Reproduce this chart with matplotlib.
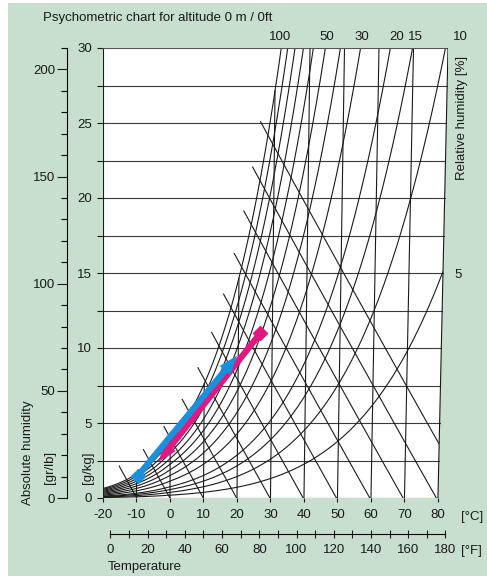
import numpy as np
import matplotlib
matplotlib.use("Agg")
import matplotlib.pyplot as plt
from matplotlib.patches import Polygon, Rectangle

plt.rcParams['font.family'] = ['Liberation Sans', 'DejaVu Sans']

BG = '#c8dfcf'
BLUE = '#1a8fdc'
MAGENTA = '#e0187f'
INK = '#1a1a1a'

P_ATM = 101.325  # kPa, altitude 0 m

# chart grid levels
rh_levels = [100, 90, 80, 70, 60, 50, 40, 30, 20, 15, 10, 5]
rh_top_labels = ['100', '50', '30', '20', '15', '10']
rh_side_label = '5'
isotherms = [-10, 0, 10, 20, 30, 40, 50, 60, 70]
enthalpy_levels = [-10, 0, 10, 20, 30, 40, 50, 60, 70, 80, 90, 100, 110, 120, 130, 140, 150]
t_ticks = [-20, -10, 0, 10, 20, 30, 40, 50, 60, 70, 80]
f_ticks = [0, 20, 40, 60, 80, 100, 120, 140, 160, 180]
gkg_ticks = [0, 5, 10, 15, 20, 25, 30]
grlb_ticks = [0, 50, 100, 150, 200]

# process lines (°C, g/kg)
blue_t = [-9.5, 20.1]
blue_x = [1.5, 9.5]
magenta_t = [27.0, -3.5]
magenta_x = [11.0, 2.4]


def p_sat(t):
    t = np.asarray(t, dtype=float)
    water = 0.61094 * np.exp(17.625 * t / (t + 243.04))
    ice = 0.61115 * np.exp(22.452 * t / (272.55 + t))
    return np.where(t >= 0, water, ice)


def x_of(t, rh):
    pw = rh / 100.0 * p_sat(t)
    return 622.0 * pw / (P_ATM - pw)


def t_of_h(h, x):
    # x in g/kg, h in kJ/kg
    return (h - 2.501 * x) / (1.006 + 0.00186 * x)


def skew(t, x):
    # isotherms lean slightly to the right with humidity
    return t + 0.001 * (np.asarray(t) + 20) * x


W, H = 487, 576
fig = plt.figure(figsize=(W / 100, H / 100), dpi=100, facecolor='white')
fig.patches.append(Rectangle((8 / W, 0), 1, 1 - 3 / H, transform=fig.transFigure,
                             facecolor=BG, edgecolor='none', zorder=-10))


def fx(px):
    return px / W


def fy(py):
    return 1 - py / H


ax = fig.add_axes([fx(103), fy(498), (448 - 103) / W, (498 - 48) / H])
ax.set_facecolor('none')
x_right = skew(80, 30)
ax.set_xlim(-20, x_right)
ax.set_ylim(0, 30)
for s in ax.spines.values():
    s.set_visible(False)

area = Polygon([(-20, 0), (80, 0), (x_right, 30), (-20, 30)], closed=True,
               facecolor='white', edgecolor='none', zorder=0)
ax.add_patch(area)

lw = 0.8
# horizontal grid
for y in np.arange(2.5, 30, 2.5):
    ax.plot([-20, skew(80, y)], [y, y], color='#3a3a3a', lw=lw, zorder=1)

# frame
ax.plot([-20, -20], [0, 30], color=INK, lw=lw, zorder=3)
ax.plot([-20, x_right], [30, 30], color='#555555', lw=lw, zorder=3)
ax.plot([80, x_right], [0, 30], color=INK, lw=lw, zorder=3)
ax.plot([-20, 80], [0, 0], color=INK, lw=lw, zorder=3)

# relative humidity curves
tt = np.linspace(-20, 80, 801)
for rh in rh_levels:
    xx = x_of(tt, rh)
    m = xx <= 32
    ln, = ax.plot(skew(tt[m], xx[m]), xx[m], color=INK, lw=lw, zorder=2)
    ln.set_clip_path(area)

# isotherms up to saturation
for t in isotherms:
    xs = min(float(x_of(t, 100)), 30.0)
    ax.plot([skew(t, 0), skew(t, xs)], [0, xs], color=INK, lw=lw, zorder=2)

# enthalpy lines, drawn a little past saturation
xg = np.linspace(0, 40, 8001)
for h in enthalpy_levels:
    d = x_of(t_of_h(h, xg), 100) - xg
    x_sat = xg[np.argmax(d < 0)]
    x_top = min(x_sat + 0.9, 30.0)
    if h / 1.006 <= 80:
        x_end = 0.0
    else:
        x_end = (h - 1.006 * 80) / (2.501 + 0.00186 * 80)
    if x_end >= x_top:
        continue
    xl = np.linspace(x_end, x_top, 60)
    tl = t_of_h(h, xl)
    ln, = ax.plot(skew(tl, xl), xl, color=INK, lw=lw, zorder=2)
    ln.set_clip_path(area)

# process arrows
for ts, xs, col in [(magenta_t, magenta_x, MAGENTA), (blue_t, blue_x, BLUE)]:
    ax.annotate('', xy=(ts[1], xs[1]), xytext=(ts[0], xs[0]),
                arrowprops=dict(arrowstyle='simple,head_length=1.4,head_width=1.0,tail_width=0.45',
                                mutation_scale=10, color=col, lw=0, shrinkA=0, shrinkB=0),
                zorder=6)
    ax.plot(ts[0], xs[0], marker='D', ms=7, color=col, mec=col, zorder=7)

fs = 9.5
# axes ticks
ax.set_xticks(t_ticks)
ax.set_xticklabels([str(v) for v in t_ticks])
ax.tick_params(axis='x', direction='out', length=3, width=0.8, pad=5,
               labelsize=fs, colors=INK)
ax.set_yticks(gkg_ticks)
ax.set_yticklabels([str(v) for v in gkg_ticks])
ax.set_yticks(np.arange(0, 30.1, 2.5), minor=True)
ax.tick_params(axis='y', which='both', direction='out', length=4.5, width=0.8,
               pad=3.5, labelsize=fs, colors=INK)

# °F scale
secx = ax.secondary_xaxis(-36 / 450, functions=(lambda c: c * 9 / 5 + 32,
                                                 lambda f: (f - 32) * 5 / 9))
secx.set_xticks(f_ticks)
secx.set_xticks(np.arange(0, 181, 10), minor=True)
secx.tick_params(which='both', direction='inout', length=6, width=0.8, pad=4,
                 labelsize=fs, colors=INK)
secx.spines['bottom'].set_bounds(0, 180)
secx.spines['bottom'].set_linewidth(0.8)

# gr/lb scale
secy = ax.secondary_yaxis(-36 / 345, functions=(lambda g: g * 7, lambda g: g / 7))
secy.set_yticks(grlb_ticks)
secy.set_yticks(np.arange(0, 211, 10), minor=True)
secy.tick_params(which='major', direction='out', length=7, width=0.8, pad=1.5,
                 labelsize=fs, colors=INK)
secy.tick_params(which='minor', direction='out', length=4.5, width=0.8)
secy.spines['left'].set_linewidth(0.8)

# texts
fig.text(fx(43), fy(18), 'Psychometric chart for altitude 0 m / 0ft', fontsize=fs,
         va='center', ha='left', color=INK)
top_x = [280, 327, 362, 397, 415, 460]
for lab, px in zip(rh_top_labels, top_x):
    fig.text(fx(px), fy(37), lab, fontsize=fs, ha='center', va='center', color=INK)
fig.text(fx(458), fy(275), rh_side_label, fontsize=fs, ha='center', va='center', color=INK)
fig.text(fx(462), fy(118), 'Relative humidity [%]', fontsize=fs, rotation=90,
         ha='center', va='center', color=INK)
fig.text(fx(461), fy(517), '[°C]', fontsize=fs, ha='left', va='center', color=INK)
fig.text(fx(461), fy(551), '[°F]', fontsize=fs, ha='left', va='center', color=INK)
fig.text(fx(108), fy(567), 'Temperature', fontsize=fs, ha='left', va='center', color=INK)
fig.text(fx(28), fy(453), 'Absolute humidity', fontsize=fs, rotation=90,
         ha='center', va='center', color=INK)
fig.text(fx(50), fy(467), '[gr/lb]', fontsize=fs, rotation=90,
         ha='center', va='center', color=INK)
fig.text(fx(88), fy(468), '[g/kg]', fontsize=fs, rotation=90,
         ha='center', va='center', color=INK)

fig.savefig('out.png', dpi=100, facecolor=fig.get_facecolor())
